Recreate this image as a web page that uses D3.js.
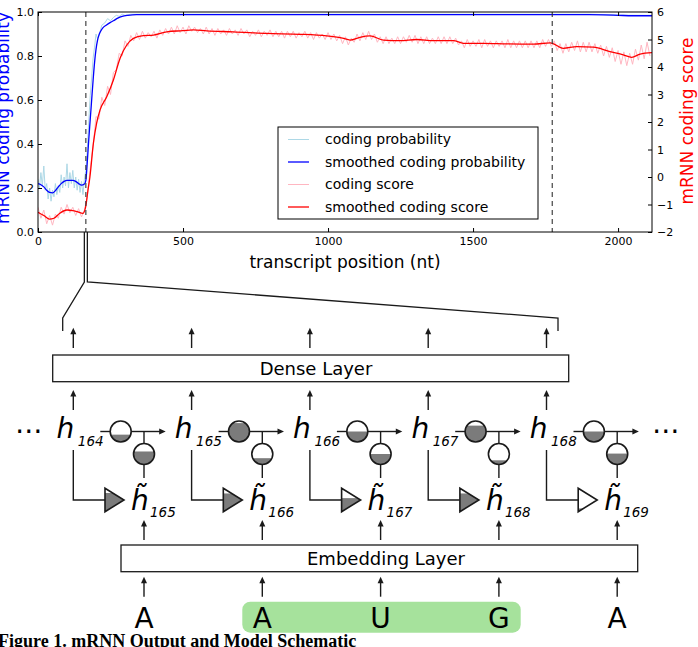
<!DOCTYPE html>
<html>
<head>
<meta charset="utf-8">
<script src="https://cdn.jsdelivr.net/npm/d3@7"></script>
<style>
  body { margin: 0; background: #fff; }
  svg { display: block; font-family: "DejaVu Sans", sans-serif; }
</style>
</head>
<body>
<svg id="fig" width="698" height="647"></svg>
<script>
/* ---------- chart data ---------- */

const positionTicks = [0, 500, 1000, 1500, 2000];
const probTicks = [0, 0.2, 0.4, 0.6, 0.8, 1.0];
const scoreTicks = [-2, -1, 0, 1, 2, 3, 4, 5, 6];
const orfBounds = [165, 1773]; // start / stop codon (dashed lines)
const transcriptLength = 2117;

// raw per-nucleotide coding probability [position, value]
const rawProb = [
  [0, .24], [5, .2], [10, .27], [15, .21], [20, .3], [25, .19], [30, .22], [35, .15], [40, .2], [45, .14],
  [50, .19], [55, .16], [60, .22], [65, .17], [70, .21], [75, .18], [80, .26], [85, .2], [90, .25], [95, .21],
  [100, .31], [105, .2], [110, .27], [115, .22], [120, .28], [125, .2], [130, .25], [135, .19], [140, .24], [145, .18],
  [150, .23], [155, .17], [160, .24], [165, .28], [170, .38], [175, .5], [180, .62], [185, .7], [190, .79], [195, .84],
  [200, .9], [205, .88], [210, .89], [220, .94], [230, .95], [240, .97], [250, .96], [260, .975], [270, .985], [280, .98],
  [290, .99], [300, .985], [320, .99], [400, .99], [800, .99], [1200, .99], [1600, .99], [1900, .99], [2000, .986], [2117, .985]
];

// smoothed coding probability [position, value]
const smoothProb = [
  [0, .22], [10, .215], [20, .205], [30, .19], [40, .18], [50, .178], [60, .188], [70, .205], [80, .22], [90, .23],
  [100, .235], [120, .235], [130, .23], [140, .22], [150, .213], [160, .218], [165, .235], [170, .32], [175, .42], [180, .51],
  [185, .6], [190, .69], [195, .77], [200, .83], [205, .87], [210, .895], [215, .91], [225, .93], [235, .94], [250, .953],
  [260, .96], [275, .972], [290, .98], [310, .985], [340, .988], [1900, .988], [1950, .987], [2000, .985], [2050, .983], [2117, .983]
];

// raw coding score, one value every 10 nt starting at 0
const rawScore = [
  -1.1, -1.5, -1.2, -1.7, -1.4, -1.75, -1.35, -1.5, -1.1, -1.35,
  -1.0, -1.3, -1.1, -1.4, -1.15, -1.45, -1.2, -0.7, 0.3, 1.1,
  2.2, 2.1, 2.9, 2.6, 3.3, 3.0, 3.8, 3.9, 4.5, 4.4,
  4.95, 4.75, 5.15, 4.95, 5.25, 5.0, 5.3, 5.05, 5.25, 5.1,
  5.3, 5.05, 5.35, 5.15, 5.4, 5.2, 5.45, 5.2, 5.5, 5.25,
  5.45, 5.2, 5.5, 5.3, 5.45, 5.25, 5.4, 5.2, 5.45, 5.2,
  5.4, 5.15, 5.4, 5.2, 5.35, 5.15, 5.4, 5.2, 5.35, 5.15,
  5.4, 5.2, 5.35, 5.1, 5.3, 5.15, 5.35, 5.1, 5.3, 5.15,
  5.35, 5.1, 5.3, 5.1, 5.3, 5.05, 5.3, 5.1, 5.3, 5.05,
  5.25, 5.1, 5.3, 5.05, 5.25, 5.0, 5.25, 5.05, 5.2, 5.0,
  5.25, 5.0, 5.2, 4.95, 5.15, 4.85, 5.1, 4.8, 5.05, 4.9,
  5.2, 4.95, 5.25, 5.0, 5.3, 5.0, 5.2, 4.9, 5.1, 4.85,
  5.1, 4.85, 5.05, 4.85, 5.1, 4.85, 5.1, 4.9, 5.15, 4.9,
  5.15, 4.85, 5.1, 4.85, 5.1, 4.85, 5.05, 4.85, 5.1, 4.85,
  5.1, 4.85, 5.1, 4.85, 5.05, 4.8, 4.95, 4.7, 5.0, 4.75,
  4.95, 4.75, 5.0, 4.7, 5.0, 4.75, 4.95, 4.7, 4.95, 4.75,
  4.95, 4.7, 5.0, 4.7, 4.95, 4.7, 4.95, 4.7, 4.95, 4.7,
  4.95, 4.7, 4.95, 4.7, 5.0, 4.75, 5.0, 4.75, 4.95, 4.6,
  4.85, 4.5, 4.85, 4.55, 4.9, 4.6, 4.95, 4.55, 4.9, 4.55,
  4.9, 4.55, 4.85, 4.5, 4.8, 4.4, 4.75, 4.35, 4.7, 4.2,
  4.6, 4.1, 4.55, 4.05, 4.5, 4.1, 4.65, 4.25, 4.8, 4.3,
  4.9, 4.4
];

// smoothed coding score [position, value]
const smoothScore = [
  [0, -1.28], [20, -1.4], [40, -1.53], [55, -1.5], [75, -1.32], [100, -1.2], [120, -1.22], [135, -1.26], [155, -1.32], [165, -1.05],
  [172, -0.5], [179, 0.0], [191, 1.23], [202, 1.95], [214, 2.44], [237, 2.92], [260, 3.53], [283, 4.32], [306, 4.8], [329, 5.04],
  [363, 5.14], [398, 5.16], [444, 5.28], [499, 5.32], [536, 5.35], [582, 5.31], [673, 5.28], [789, 5.22], [903, 5.19], [995, 5.13],
  [1050, 5.05], [1076, 4.98], [1110, 5.08], [1145, 5.13], [1191, 4.98], [1248, 4.96], [1306, 5.0], [1363, 4.96], [1432, 4.96], [1467, 4.86],
  [1536, 4.86], [1616, 4.84], [1708, 4.83], [1766, 4.88], [1811, 4.68], [1858, 4.74], [1915, 4.72], [1972, 4.56], [2018, 4.44], [2047, 4.35],
  [2076, 4.47], [2117, 4.52]
];

const legendLabels = ['coding probability', 'smoothed coding probability', 'coding score', 'smoothed coding score'];
const legendColors = ['#add8e6', '#0000ff', '#ffb6c1', '#ff0000'];

/* ---------- schematic data ---------- */
const hIndex = [164, 165, 166, 167, 168];
const nucleotides = ['A', 'A', 'U', 'G', 'A'];
const resetGate = [0.35, 0.9, 0.5, 0.78, 0.5];     // gate on the h -> h path
const updateGate = [0.62, 0.3, 0.5, 0.2, 0.52];    // gate feeding h~
const candidateGate = [0.8, 0.78, 0.58, 0.78, 0.14]; // triangle fill

const svg = d3.select('#fig');
const defs = svg.append('defs');

/* ---------- chart ---------- */
const x = d3.scaleLinear().domain([0, transcriptLength]).range([38, 652]);
const yProb = d3.scaleLinear().domain([0, 1]).range([232, 12]);
const yScore = d3.scaleLinear().domain([-2, 6]).range([232, 12]);

defs.append('clipPath').attr('id', 'plotClip')
  .append('rect').attr('x', 38).attr('y', 12).attr('width', 614).attr('height', 220);

const plot = svg.append('g');
const lines = plot.append('g').attr('clip-path', 'url(#plotClip)');

const probLine = d3.line().x(d => x(d[0])).y(d => yProb(d[1]));
const scoreLine = d3.line().x(d => x(d[0])).y(d => yScore(d[1]));

lines.append('path').datum(rawProb)
  .attr('d', probLine).attr('fill', 'none').attr('stroke', legendColors[0]).attr('stroke-width', 1);
lines.append('path').datum(smoothProb)
  .attr('d', probLine.curve(d3.curveMonotoneX)).attr('fill', 'none').attr('stroke', legendColors[1]).attr('stroke-width', 1.3);
lines.append('path').datum(rawScore.map((v, i) => [i * 10, v]))
  .attr('d', scoreLine).attr('fill', 'none').attr('stroke', legendColors[2]).attr('stroke-width', 1);
lines.append('path').datum(smoothScore)
  .attr('d', scoreLine.curve(d3.curveMonotoneX)).attr('fill', 'none').attr('stroke', legendColors[3]).attr('stroke-width', 1.3);

lines.selectAll('line.orf').data(orfBounds).join('line')
  .attr('class', 'orf')
  .attr('x1', d => x(d)).attr('x2', d => x(d))
  .attr('y1', 12).attr('y2', 232)
  .attr('stroke', '#333').attr('stroke-width', 1.1).attr('stroke-dasharray', '5,4');

function styleAxis(g) {
  g.select('.domain').remove();
  g.selectAll('text').style('font-size', '11px').style('font-family', 'DejaVu Sans').attr('fill', '#000');
  g.selectAll('line').attr('stroke', '#000');
}

plot.append('g').attr('transform', 'translate(0,232)')
  .call(d3.axisBottom(x).tickValues(positionTicks).tickSize(-4).tickPadding(5).tickFormat(d3.format('d')))
  .call(styleAxis);
plot.append('g').attr('transform', 'translate(0,12)')
  .call(d3.axisTop(x).tickValues(positionTicks).tickSize(-4).tickFormat(''))
  .call(styleAxis);
plot.append('g').attr('transform', 'translate(38,0)')
  .call(d3.axisLeft(yProb).tickValues(probTicks).tickSize(-4).tickPadding(4).tickFormat(d3.format('.1f')))
  .call(styleAxis);
plot.append('g').attr('transform', 'translate(652,0)')
  .call(d3.axisRight(yScore).tickValues(scoreTicks).tickSize(-4).tickPadding(5).tickFormat(d3.format('d')))
  .call(styleAxis);

plot.append('rect').attr('x', 38).attr('y', 12).attr('width', 614).attr('height', 220)
  .attr('fill', 'none').attr('stroke', '#000').attr('stroke-width', 1);

plot.append('text').attr('x', 345).attr('y', 268).attr('text-anchor', 'middle')
  .style('font-size', '17px').text('transcript position (nt)');
plot.append('text').attr('transform', 'translate(9,118) rotate(-90)').attr('text-anchor', 'middle')
  .attr('fill', '#0000ff').style('font-size', '17px').text('mRNN coding probability');
plot.append('text').attr('transform', 'translate(693,121) rotate(-90)').attr('text-anchor', 'middle')
  .attr('fill', '#ff0000').style('font-size', '17px').text('mRNN coding score');

// legend
const legend = plot.append('g').attr('transform', 'translate(278,127)');
legend.append('rect').attr('width', 260).attr('height', 92)
  .attr('fill', '#fff').attr('stroke', '#000').attr('stroke-width', 1);
const items = legend.selectAll('g.item').data(legendLabels).join('g')
  .attr('class', 'item')
  .attr('transform', (d, i) => `translate(0,${12.5 + i * 22.5})`);
items.append('line').attr('x1', 10).attr('x2', 31)
  .attr('stroke', (d, i) => legendColors[i]).attr('stroke-width', (d, i) => i % 2 ? 1.3 : 1);
items.append('text').attr('x', 47).attr('dy', '0.35em')
  .style('font-size', '14px').text(d => d);

/* ---------- schematic ---------- */
const ink = '#1a1a1a';
const gateGray = '#7b7b7b';
const colX0 = 73.3, colStep = 118.3;
const hCol = i => colX0 + i * colStep;
const tCol = i => hCol(i) + 70.7;
const sch = svg.append('g');

// zoom bracket from start codon
const xs = x(orfBounds[0]);
sch.append('path')
  .attr('d', `M${xs - 1.5},232 V282 L62.7,318 V331 M${xs + 1.5},232 V282 L558,318 V331`)
  .attr('fill', 'none').attr('stroke', ink).attr('stroke-width', 1.3);

function upArrow(cx, yFrom, yTip) {
  sch.append('line').attr('x1', cx).attr('x2', cx).attr('y1', yFrom).attr('y2', yTip + 5)
    .attr('stroke', ink).attr('stroke-width', 1.4);
  sch.append('path').attr('d', `M${cx},${yTip} L${cx - 3},${yTip + 6.5} L${cx + 3},${yTip + 6.5} Z`).attr('fill', ink);
}
function rightArrow(x1, xTip, cy) {
  sch.append('line').attr('x1', x1).attr('x2', xTip - 5).attr('y1', cy).attr('y2', cy)
    .attr('stroke', ink).attr('stroke-width', 1.4);
  sch.append('path').attr('d', `M${xTip},${cy} L${xTip - 6.5},${cy - 3} L${xTip - 6.5},${cy + 3} Z`).attr('fill', ink);
}
function gate(cx, cy, r, level, id) {
  defs.append('clipPath').attr('id', id).append('circle').attr('cx', cx).attr('cy', cy).attr('r', r);
  sch.append('circle').attr('cx', cx).attr('cy', cy).attr('r', r).attr('fill', '#fff');
  sch.append('rect').attr('x', cx - r).attr('y', cy + r - 2 * r * level)
    .attr('width', 2 * r).attr('height', 2 * r * level)
    .attr('fill', gateGray).attr('clip-path', `url(#${id})`);
  sch.append('circle').attr('cx', cx).attr('cy', cy).attr('r', r)
    .attr('fill', 'none').attr('stroke', ink).attr('stroke-width', 1.6);
}
function triangle(xl, xt, yTop, yBot, level, id) {
  const d = `M${xl},${yTop} L${xt},${(yTop + yBot) / 2} L${xl},${yBot} Z`;
  defs.append('clipPath').attr('id', id).append('path').attr('d', d);
  sch.append('path').attr('d', d).attr('fill', '#fff');
  const h = (yBot - yTop) * level;
  sch.append('rect').attr('x', xl).attr('y', yBot - h).attr('width', xt - xl).attr('height', h)
    .attr('fill', gateGray).attr('clip-path', `url(#${id})`);
  sch.append('path').attr('d', d).attr('fill', 'none').attr('stroke', ink).attr('stroke-width', 1.6).attr('stroke-linejoin', 'miter');
}

// dense layer
sch.append('rect').attr('x', 52.7).attr('y', 355).attr('width', 516).attr('height', 26.7)
  .attr('fill', '#fff').attr('stroke', ink).attr('stroke-width', 1.3);
sch.append('text').attr('x', 316).attr('y', 368.5).attr('dy', '0.35em').attr('text-anchor', 'middle')
  .style('font-size', '18px').text('Dense Layer');

// embedding layer
sch.append('rect').attr('x', 121).attr('y', 545).attr('width', 516.7).attr('height', 26.7)
  .attr('fill', '#fff').attr('stroke', ink).attr('stroke-width', 1.3);
sch.append('text').attr('x', 386).attr('y', 558.5).attr('dy', '0.35em').attr('text-anchor', 'middle')
  .style('font-size', '18px').text('Embedding Layer');

// start codon highlight
sch.append('rect').attr('x', 242.3).attr('y', 601.7).attr('width', 278.4).attr('height', 31).attr('rx', 8)
  .attr('fill', '#a6e29c');

const lineY = 431.5;
hIndex.forEach((k, i) => {
  const c = hCol(i), t = tCol(i), c1 = c + 47.4, r = 10.5, c2y = 454;

  upArrow(c, 348, 327.7);
  upArrow(c, 410, 390);

  // h_k
  sch.append('text').attr('x', c - 16.8).attr('y', 438).style('font-size', '28px').style('font-style', 'italic').text('h');
  sch.append('text').attr('x', c + 4.5).attr('y', 446).style('font-size', '13.5px').style('font-style', 'italic').text(k);

  // recurrent path with reset gate
  sch.append('line').attr('x1', c + 27).attr('x2', c1 - r).attr('y1', lineY).attr('y2', lineY)
    .attr('stroke', ink).attr('stroke-width', 1.4);
  rightArrow(c1 + r, c + 92.4, lineY);
  gate(c1, lineY, r, resetGate[i], `rg${i}`);

  // update gate into h~
  sch.append('line').attr('x1', t).attr('x2', t).attr('y1', lineY).attr('y2', c2y - r)
    .attr('stroke', ink).attr('stroke-width', 1.4);
  sch.append('line').attr('x1', t).attr('x2', t).attr('y1', c2y + r).attr('y2', 478)
    .attr('stroke', ink).attr('stroke-width', 1.4);
  gate(t, c2y, r, updateGate[i], `ug${i}`);

  // skip path with candidate triangle
  sch.append('path').attr('d', `M${c},450 V500 H${c + 31.7}`)
    .attr('fill', 'none').attr('stroke', ink).attr('stroke-width', 1.4);
  triangle(c + 31.7, c + 50.7, 488.3, 511.7, candidateGate[i], `tg${i}`);

  // h~_{k+1}
  sch.append('text').attr('x', t - 13).attr('y', 510).style('font-size', '28px').style('font-style', 'italic').text('h');
  sch.append('text').attr('x', t - 4.5).attr('y', 505).attr('text-anchor', 'middle')
    .style('font-size', '28px').style('font-style', 'italic').text('\u02DC');
  sch.append('text').attr('x', t + 6).attr('y', 517).style('font-size', '13.5px').style('font-style', 'italic').text(k + 1);

  upArrow(t, 540, 520);
  upArrow(t, 596.7, 576.7);

  sch.append('text').attr('x', t).attr('y', 628).attr('text-anchor', 'middle')
    .style('font-size', '28px').text(nucleotides[i]);
});

// continuation dots
sch.append('text').attr('x', 29).attr('y', 440).attr('text-anchor', 'middle').style('font-size', '28px').text('\u22EF');
sch.append('text').attr('x', 666).attr('y', 440).attr('text-anchor', 'middle').style('font-size', '28px').text('\u22EF');

// caption
svg.append('text').attr('x', -2).attr('y', 647)
  .style('font-family', '"Liberation Serif", serif').style('font-weight', 'bold').style('font-size', '18px')
  .text('Figure 1. mRNN Output and Model Schematic');
</script>
</body>
</html>
